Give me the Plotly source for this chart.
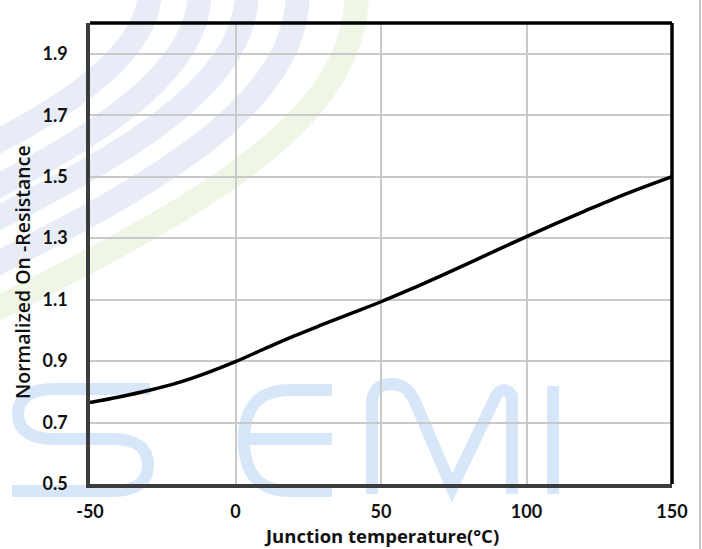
import plotly.graph_objects as go

# Data
temperature = [-50, -40, -30, -20, -10, 0, 10, 20, 30, 40, 50, 60, 70, 80, 90, 100, 110, 120, 130, 140, 150]
norm_ron = [0.765, 0.783, 0.804, 0.829, 0.861, 0.898, 0.940, 0.981, 1.019, 1.056, 1.093,
            1.133, 1.175, 1.218, 1.262, 1.305, 1.347, 1.388, 1.428, 1.465, 1.500]
x_ticks = [-50, 0, 50, 100, 150]
y_ticks = [0.5, 0.7, 0.9, 1.1, 1.3, 1.5, 1.7, 1.9]

W, H = 702, 549
L, R, T, B = 90, 672, 23, 484


def px(X):
    return (X - L) / (R - L)


def py(Y):
    return (B - Y) / (B - T)


def path(cmds):
    out = []
    for c in cmds:
        if isinstance(c, str):
            out.append(c)
        else:
            out.append(f"{px(c[0]):.4f},{py(c[1]):.4f}")
    return " ".join(out)


fig = go.Figure()
fig.add_trace(go.Scatter(
    x=temperature, y=norm_ron, mode="lines",
    line=dict(color="#000000", width=3.5, shape="spline", smoothing=1.0),
    hoverinfo="skip", showlegend=False,
))

shapes = []
wm_blue = "rgba(205,224,246,0.8)"
wm_lav = "rgba(205,212,238,0.45)"
wm_green = "rgba(225,239,210,0.55)"

# decorative stripes (watermark): (y at left edge x=90, x where band turns vertical)
stripes = [(95, 150), (140, 200), (172, 247), (217, 298), (262, 357)]
for i, (yi, xe) in enumerate(stripes):
    col = wm_green if i == 4 else wm_lav
    p0 = (-10, yi + 50)
    p1 = (xe * 0.6, yi + 45 - 0.6 * xe * 0.5)
    p2 = (xe, yi * 0.45)
    p3 = (xe, -10)
    s = path(["M", p0]) + " C" + path([p1]) + " " + path([p2]) + " " + path([p3])
    shapes.append(dict(type="path", xref="paper", yref="paper", layer="below",
                       path=s, line=dict(color=col, width=24)))

# "SEMI" watermark letters
S_path = ["M", (150, 389), "L", (55, 389), "Q", (18, 389), "", (18, 414), "Q", (18, 439), "", (55, 439),
          "L", (112, 439), "Q", (148, 439), "", (148, 465), "Q", (148, 491), "", (112, 491), "L", (12, 491)]
E_path = ["M", (332, 390), "L", (290, 390), "Q", (244, 390), "", (244, 440), "Q", (244, 491), "", (290, 491),
          "L", (332, 491), "M", (250, 439), "L", (332, 439)]
M_path = ["M", (372, 494), "L", (372, 405), "Q", (372, 384), "", (392, 384), "Q", (408, 384), "", (416, 404),
          "L", (452, 488), "L", (496, 396), "Q", (504, 384), "", (512, 396), "L", (512, 494)]
I_path = ["M", (553, 386), "L", (553, 494)]
for p in (S_path, E_path, M_path, I_path):
    s = path(p).replace("  ", " ")
    shapes.append(dict(type="path", xref="paper", yref="paper", layer="below",
                       path=s, line=dict(color=wm_blue, width=12)))

# frame: top and right borders black
shapes.append(dict(type="line", xref="paper", yref="paper", x0=0, x1=1, y0=1, y1=1,
                   line=dict(color="#000000", width=3.5)))
shapes.append(dict(type="line", xref="paper", yref="paper", x0=1, x1=1, y0=0, y1=1,
                   line=dict(color="#000000", width=3.5)))
# thin image border on the right
shapes.append(dict(type="line", xref="paper", yref="paper", x0=px(700), x1=px(700), y0=py(549), y1=py(0),
                   line=dict(color="#8a8a8a", width=1)))

fig.update_layout(
    width=W, height=H,
    margin=dict(l=L, r=W - R, t=T, b=H - B, pad=0),
    paper_bgcolor="#ffffff", plot_bgcolor="rgba(0,0,0,0)",
    font=dict(family="Lato", color="#111111"),
    shapes=shapes,
    showlegend=False,
    xaxis=dict(range=[-50, 150], tickmode="array", tickvals=x_ticks,
               ticktext=[str(v) for v in x_ticks],
               showgrid=True, gridcolor="#c9c9c9", gridwidth=1.5,
               showline=True, linecolor="#3c3c3c", linewidth=3.5,
               ticks="", ticklabelstandoff=9, zeroline=False,
               tickfont=dict(family="Lato", size=18, weight="bold", color="#111111")),
    yaxis=dict(range=[0.5, 2.0], tickmode="array", tickvals=y_ticks,
               ticktext=[f"{v:.1f}" for v in y_ticks],
               showgrid=True, gridcolor="#c9c9c9", gridwidth=1.5,
               showline=True, linecolor="#3c3c3c", linewidth=3.5,
               ticks="", ticklabelstandoff=15, zeroline=False,
               tickfont=dict(family="Lato", size=18, weight="bold", color="#111111")),
    annotations=[
        dict(text="Junction temperature(°C)", xref="paper", yref="paper",
             x=px(381), y=py(535), showarrow=False, xanchor="center", yanchor="middle",
             font=dict(family="Open Sans", size=18.5, weight="bold", color="#111111")),
        dict(text="Normalized On -Resistance", xref="paper", yref="paper",
             x=px(22), y=py(272), showarrow=False, textangle=-90, xanchor="center", yanchor="middle",
             font=dict(family="Open Sans", size=19.5, weight=600, color="#111111")),
    ],
)

fig.write_html("out.html")
